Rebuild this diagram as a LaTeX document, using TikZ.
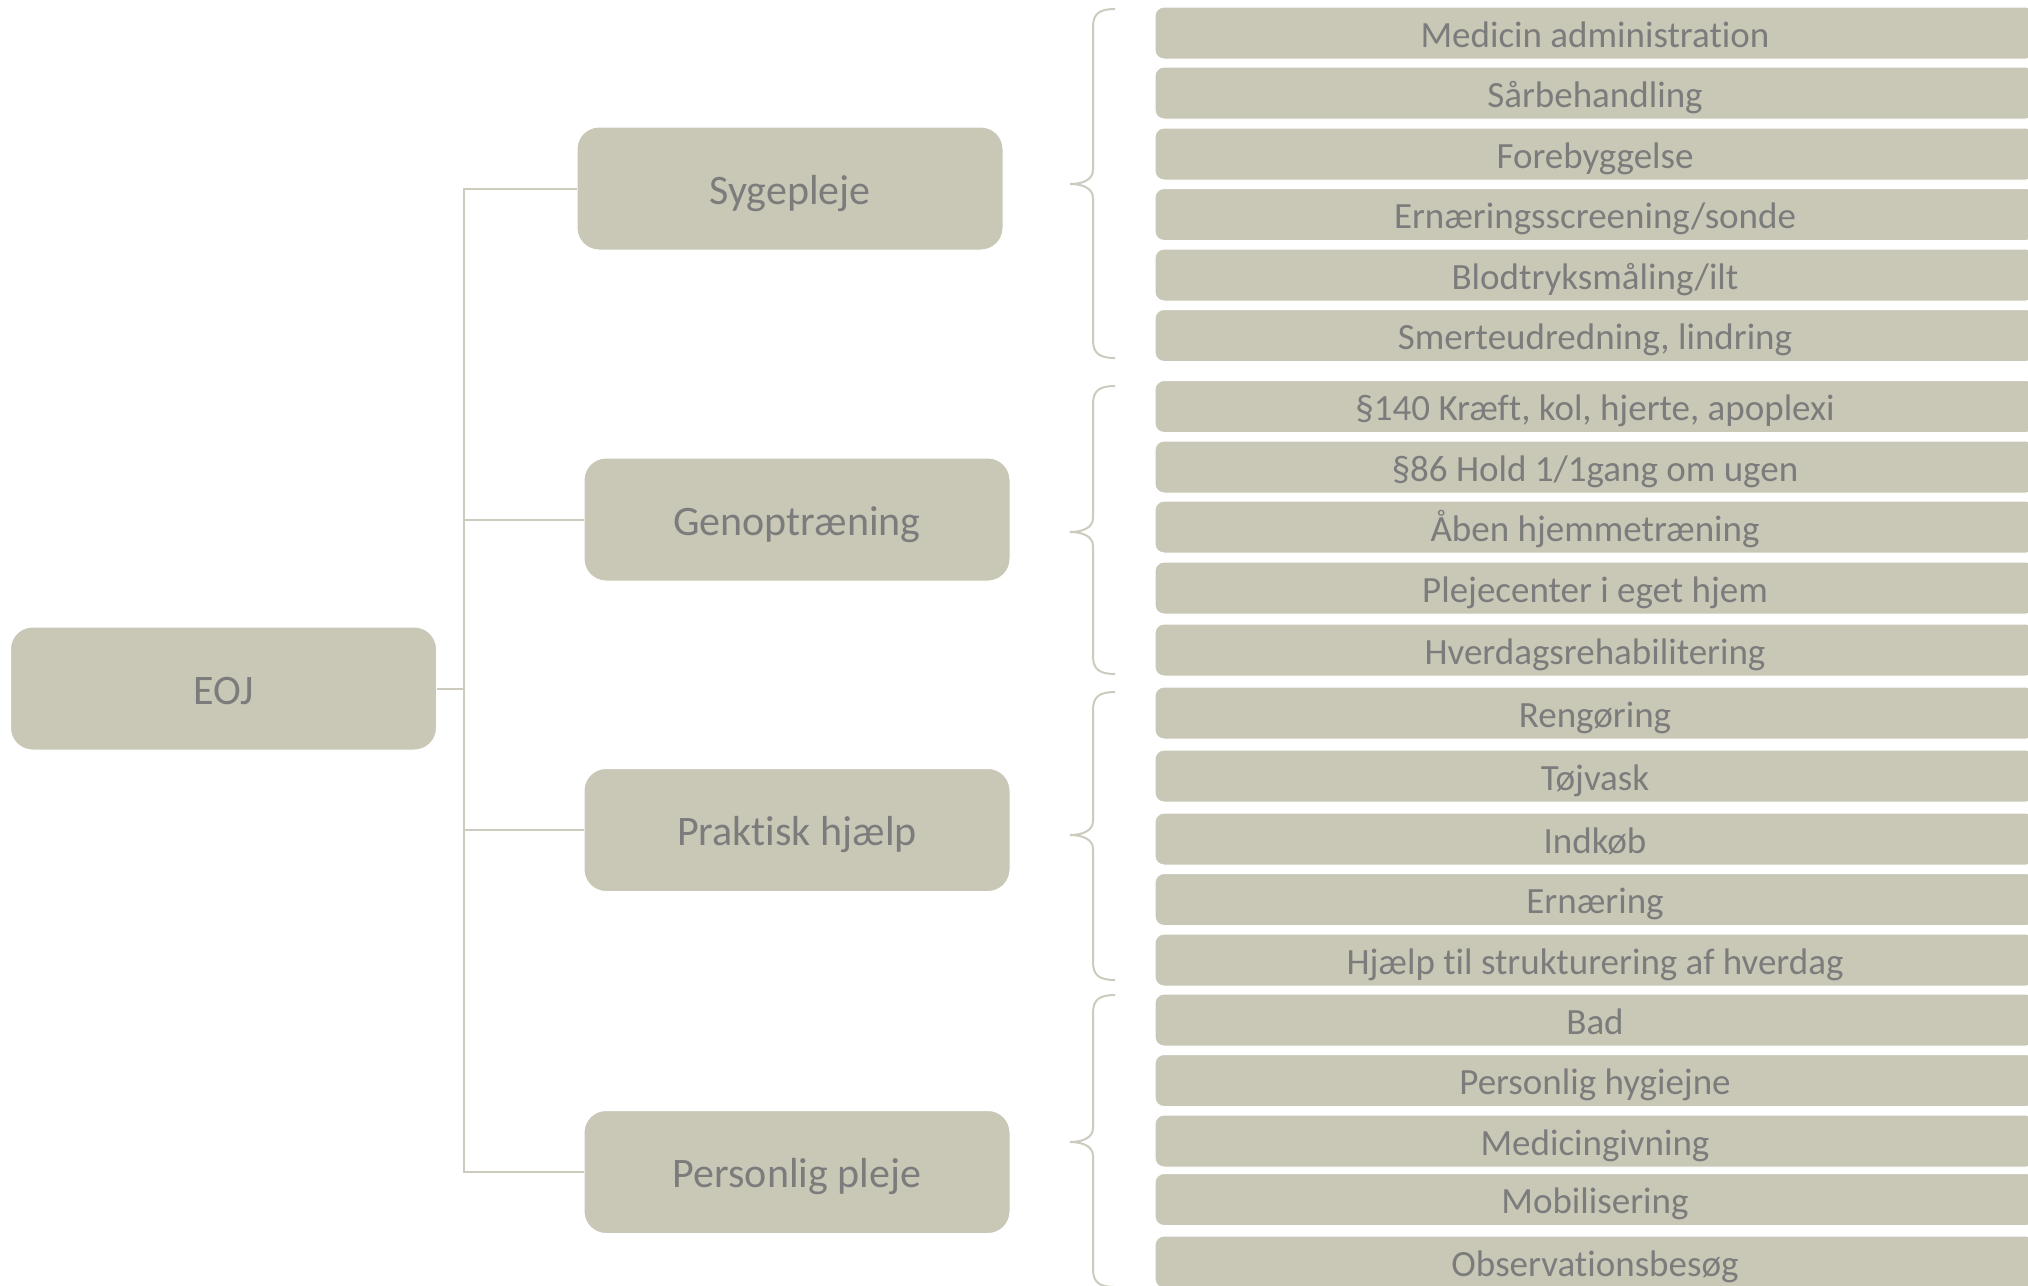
\documentclass[tikz,border=0pt]{standalone}
\usepackage{fontspec}
\setmainfont{Carlito}[Ligatures=NoCommon]
\definecolor{boxfill}{RGB}{201,200,183}
\definecolor{txt}{RGB}{124,124,124}
\definecolor{lin}{RGB}{204,203,190}
\begin{document}
\begin{tikzpicture}[x=1pt,y=-1pt,
 bigbox/.style={rectangle, rounded corners=22pt, fill=boxfill, draw=white, line width=1pt, minimum width=426pt, minimum height=123pt, inner sep=0pt, text=txt, font=\fontsize{42}{50}\selectfont, text height=31pt, text depth=0pt},
 itembox/.style={rectangle, rounded corners=9pt, fill=boxfill, draw=white, line width=1pt, minimum width=880pt, minimum height=52pt, inner sep=0pt, text=txt, font=\fontsize{37}{44}\selectfont, text height=28pt, text depth=0pt},
 conn/.style={draw=lin, line width=2pt},
 bracel/.style={draw=lin, line width=2pt}]
\useasboundingbox (0,0) rectangle (2028,1285);
\clip (0,0) rectangle (2028,1285);
\fill[white] (0,0) rectangle (2028,1285);

% main boxes
\node[bigbox] (eoj) at (223.5,688.5) {EOJ};
\node[bigbox] (syg) at (790,188.5) {Sygepleje};
\node[bigbox] (gen) at (797,519.5) {Genoptræning};
\node[bigbox] (pra) at (797,830) {Praktisk hjælp};
\node[bigbox] (per) at (797,1172) {Personlig pleje};

% trunk
\coordinate (tr) at (464,688.5);
\draw[conn] (syg.west) -- (syg.west -| tr) -- (per.west -| tr) -- (per.west);
\draw[conn] (gen.west) -- (gen.west -| tr);
\draw[conn] (pra.west) -- (pra.west -| tr);
\draw[conn] (eoj.east) -- (eoj.east -| tr);

% items
\node[itembox] (i1) at (1595,33) {Medicin administration};
\node[itembox] (i2) at (1595,93) {Sårbehandling};
\node[itembox] (i3) at (1595,154) {Forebyggelse};
\node[itembox] (i4) at (1595,214.5) {Ernæringsscreening/sonde};
\node[itembox] (i5) at (1595,275) {Blodtryksmåling/ilt};
\node[itembox] (i6) at (1595,335.5) {Smerteudredning, lindring};
\node[itembox] (i7) at (1595,406.5) {§140 Kræft, kol, hjerte, apoplexi};
\node[itembox] (i8) at (1595,467) {§86 Hold 1/1gang om ugen};
\node[itembox] (i9) at (1595,527) {Åben hjemmetræning};
\node[itembox] (i10) at (1595,588) {Plejecenter i eget hjem};
\node[itembox] (i11) at (1595,650) {Hverdagsrehabilitering};
\node[itembox] (i12) at (1595,713) {Rengøring};
\node[itembox] (i13) at (1595,776) {Tøjvask};
\node[itembox] (i14) at (1595,839) {Indkøb};
\node[itembox] (i15) at (1595,899.5) {Ernæring};
\node[itembox] (i16) at (1595,960) {Hjælp til strukturering af hverdag};
\node[itembox] (i17) at (1595,1020) {Bad};
\node[itembox] (i18) at (1595,1080.5) {Personlig hygiejne};
\node[itembox] (i19) at (1595,1141) {Medicingivning};
\node[itembox] (i20) at (1595,1199.5) {Mobilisering};
\node[itembox] (i21) at (1595,1262) {Observationsbesøg};

% braces
\foreach \t/\m/\b in {9/184/358, 386/532/674, 692/835/980, 995/1142/1287}{
  \draw[bracel] (1115,\t) .. controls (1099,\t) and (1093,{\t+5}) .. (1093,{\t+18})
    -- (1093,{\m-14}) .. controls (1093,{\m-4}) and (1082,\m) .. (1070,\m)
    .. controls (1082,\m) and (1093,{\m+4}) .. (1093,{\m+14})
    -- (1093,{\b-18}) .. controls (1093,{\b-5}) and (1099,\b) .. (1115,\b);
}
\end{tikzpicture}
\end{document}
